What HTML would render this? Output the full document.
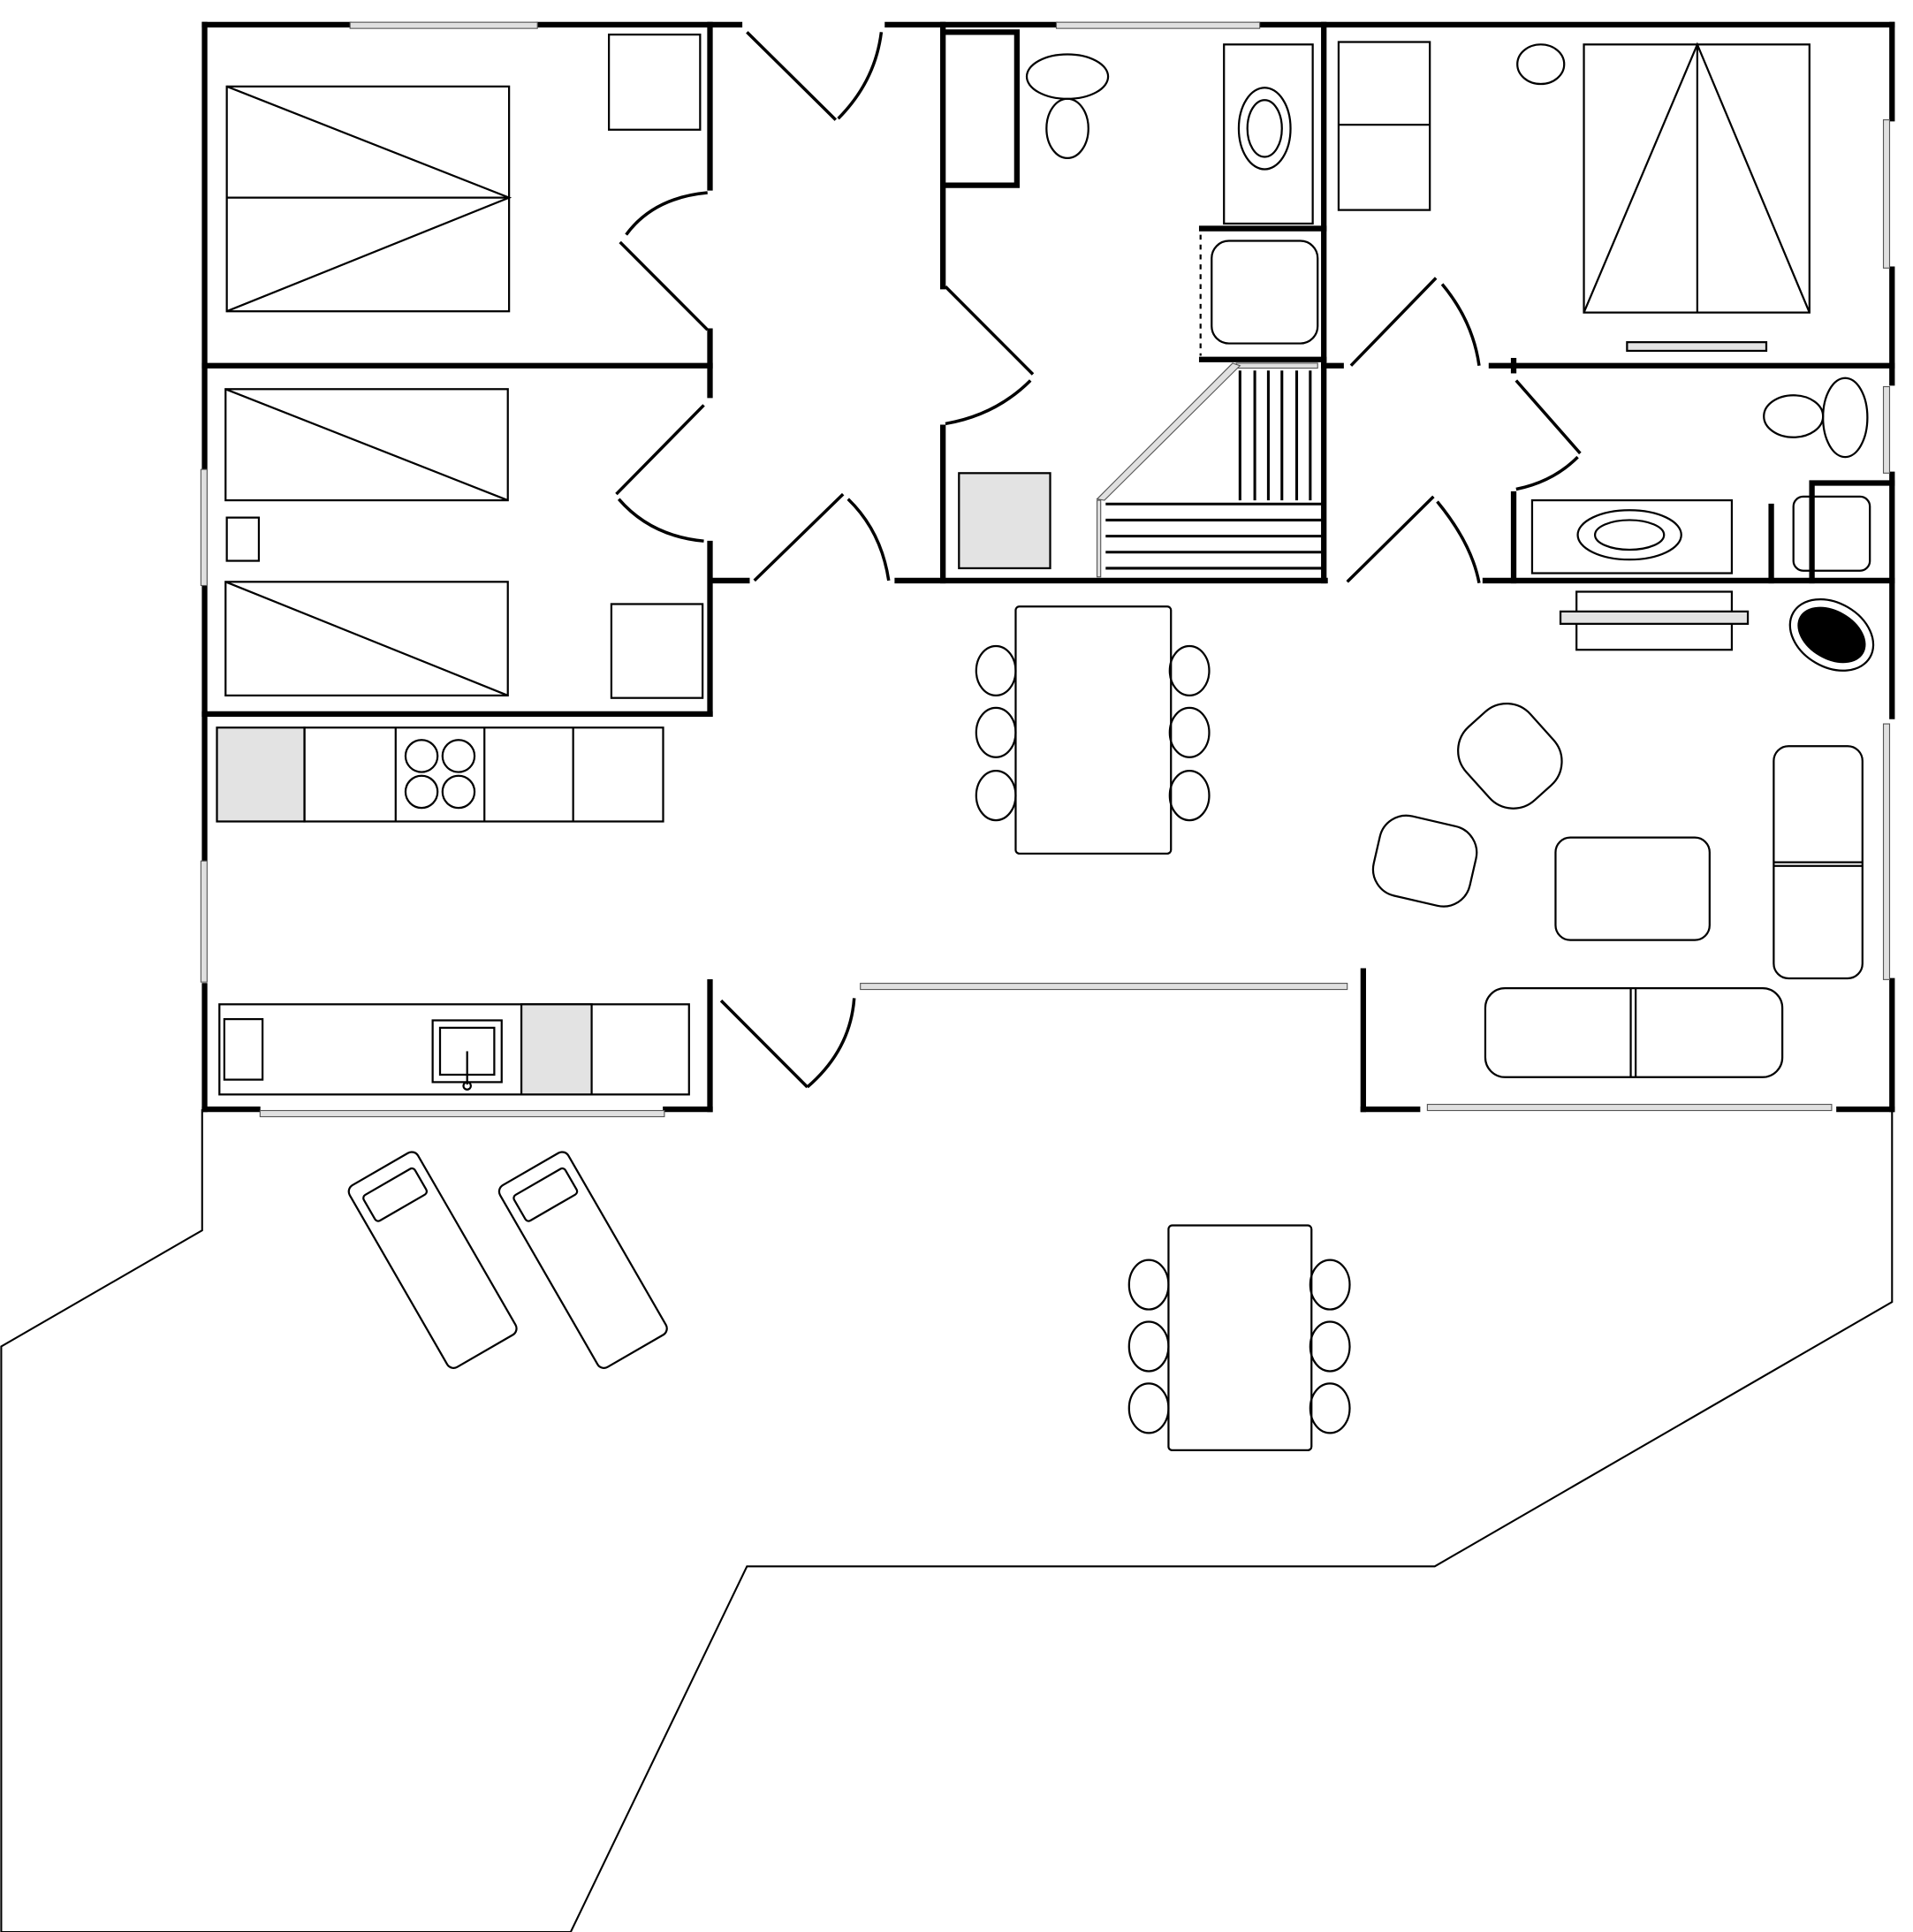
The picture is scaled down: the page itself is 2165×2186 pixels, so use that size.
<!DOCTYPE html>
<html><head><meta charset="utf-8"><style>html,body{margin:0;padding:0;background:#fff}svg{display:block}</style></head>
<body>
<svg width="2165" height="2186" viewBox="0 0 1552 1564" preserveAspectRatio="none" xmlns="http://www.w3.org/2000/svg">
<rect width="1552" height="1564" fill="#fff"/>
<polyline points="164,898 164,996 1,1090 1,1564 463,1564 606,1268 1164,1268 1535,1054 1535,898" fill="none" stroke="#000" stroke-width="1.5"/>
<g stroke="#000" stroke-width="4.5" fill="none" stroke-linecap="square">
<polyline points="166,20 166,578"/>
<polyline points="166,20 283,20"/><polyline points="437,20 600,20"/>
<line x1="576" y1="20" x2="576" y2="152"/><line x1="576" y1="268" x2="576" y2="320"/>
<line x1="166" y1="296" x2="576" y2="296"/>
<line x1="576" y1="440" x2="576" y2="578"/>
<line x1="166" y1="578" x2="576" y2="578"/>
<line x1="580" y1="470" x2="606" y2="470"/>
<line x1="720" y1="20" x2="856" y2="20"/><line x1="1022" y1="20" x2="1535" y2="20"/>
<line x1="765" y1="20" x2="765" y2="232"/><line x1="765" y1="346" x2="765" y2="470"/>
<polyline points="767,26 825,26 825,150 767,150"/>
<line x1="728" y1="470" x2="1075" y2="470"/>
<line x1="1074" y1="20" x2="1074" y2="470"/>
<line x1="975" y1="185" x2="1074" y2="185"/><line x1="975" y1="291" x2="1074" y2="291"/>
<line x1="1074" y1="296" x2="1088" y2="296"/>
<line x1="1210" y1="296" x2="1535" y2="296"/><line x1="1228" y1="292" x2="1228" y2="300"/>
<line x1="1535" y1="20" x2="1535" y2="96"/><line x1="1535" y1="218" x2="1535" y2="310"/>
<line x1="1535" y1="384" x2="1535" y2="580"/>
<line x1="1228" y1="400" x2="1228" y2="470"/>
<line x1="1205" y1="470" x2="1535" y2="470"/>
<polyline points="1470,470 1470,391 1535,391"/>
<line x1="1437" y1="410" x2="1437" y2="470"/>
<line x1="166" y1="578" x2="166" y2="695"/><line x1="166" y1="798" x2="166" y2="898"/>
<line x1="166" y1="898" x2="209" y2="898"/><line x1="540" y1="898" x2="576" y2="898"/>
<line x1="576" y1="795" x2="576" y2="898"/>
<line x1="1106" y1="786" x2="1106" y2="898"/>
<line x1="1106" y1="898" x2="1150" y2="898"/><line x1="1492" y1="898" x2="1535" y2="898"/>
<line x1="1535" y1="794" x2="1535" y2="898"/>
</g>
<g fill="#e0e0e0" stroke="#555" stroke-width="0.8">
<rect x="284" y="18" width="152" height="5"/><rect x="857" y="18" width="165" height="5"/>
<rect x="163" y="380" width="5" height="94"/><rect x="163" y="697" width="5" height="98"/>
<rect x="211" y="899" width="328" height="5"/><rect x="1158" y="894" width="328" height="5"/>
<rect x="1528" y="97" width="5" height="120"/><rect x="1528" y="313" width="5" height="70"/>
<rect x="1528" y="586" width="5" height="207"/>
<rect x="698" y="796" width="395" height="5"/>
<rect x="1003" y="294" width="66" height="4"/>
<polygon points="1000,294 1006,296 896,405 890,404"/>
<rect x="890" y="405" width="3" height="62"/>
</g>
<g stroke="#000" stroke-width="2.5" fill="none">
<line x1="606" y1="26" x2="678" y2="97"/><path d="M680,96 Q710,66 715,26"/>
<line x1="503" y1="196" x2="574" y2="267"/><path d="M574,156 Q530,160 508,190"/>
<line x1="500" y1="400" x2="571" y2="328"/><path d="M571,438 Q528,434 502,404"/>
<line x1="612" y1="470" x2="684" y2="400"/><path d="M688,404 Q715,430 721,470"/>
<line x1="767" y1="232" x2="838" y2="303"/><path d="M836,308 Q808,336 767,343"/>
<line x1="1096" y1="296" x2="1165" y2="225"/><path d="M1170,230 Q1195,260 1200,296"/>
<line x1="1093" y1="471" x2="1163" y2="402"/><path d="M1166,406 Q1194,440 1200,472"/>
<line x1="1230" y1="308" x2="1282" y2="367"/><path d="M1280,370 Q1260,390 1230,396"/>
<line x1="585" y1="810" x2="655" y2="880"/><path d="M655,880 Q690,850 693,808"/>
</g>
<g stroke="#000" stroke-width="1.6" fill="none">
<rect x="494" y="28" width="74" height="77"/>
<rect x="184" y="70" width="229" height="182"/>
<polyline points="184,70 413,160 184,252"/><line x1="184" y1="160" x2="413" y2="160"/>
<rect x="183" y="315" width="229" height="90"/><line x1="183" y1="315" x2="412" y2="405"/>
<rect x="184" y="419" width="26" height="35"/>
<rect x="183" y="471" width="229" height="92"/><line x1="183" y1="471" x2="412" y2="563"/>
<rect x="496" y="489" width="74" height="76"/>
<rect x="176" y="589" width="71" height="76" fill="#e3e3e3"/>
<rect x="247" y="589" width="291" height="76"/>
<line x1="321" y1="589" x2="321" y2="665"/><line x1="393" y1="589" x2="393" y2="665"/><line x1="465" y1="589" x2="465" y2="665"/>
<circle cx="342" cy="612" r="13"/><circle cx="372" cy="612" r="13"/><circle cx="342" cy="641" r="13"/><circle cx="372" cy="641" r="13"/>
<rect x="178" y="813" width="381" height="73"/>
<rect x="182" y="825" width="31" height="49"/>
<rect x="351" y="826" width="56" height="50"/><rect x="357" y="832" width="44" height="38"/>
<line x1="379" y1="851" x2="379" y2="878"/><circle cx="379" cy="879" r="3"/>
<rect x="423" y="813" width="57" height="73" fill="#e3e3e3"/>
<rect x="824" y="491" width="126" height="200" rx="3"/>
<ellipse cx="808" cy="543" rx="16" ry="20"/><ellipse cx="808" cy="593" rx="16" ry="20"/><ellipse cx="808" cy="644" rx="16" ry="20"/>
<ellipse cx="965" cy="543" rx="16" ry="20"/><ellipse cx="965" cy="593" rx="16" ry="20"/><ellipse cx="965" cy="644" rx="16" ry="20"/>
<rect x="948" y="992" width="116" height="182" rx="3"/>
<ellipse cx="932" cy="1040" rx="16" ry="20"/><ellipse cx="932" cy="1090" rx="16" ry="20"/><ellipse cx="932" cy="1140" rx="16" ry="20"/>
<ellipse cx="1079" cy="1040" rx="16" ry="20"/><ellipse cx="1079" cy="1090" rx="16" ry="20"/><ellipse cx="1079" cy="1140" rx="16" ry="20"/>
<ellipse cx="866" cy="62" rx="33" ry="18"/><ellipse cx="866" cy="104" rx="17" ry="24"/>
<rect x="993" y="36" width="72" height="145"/><ellipse cx="1026" cy="104" rx="21" ry="33"/><ellipse cx="1026" cy="104" rx="14" ry="23"/>
<rect x="983" y="195" width="86" height="83" rx="14"/>
<line x1="974" y1="190" x2="974" y2="288" stroke-dasharray="4,4"/>
<rect x="778" y="383" width="74" height="77" fill="#e3e3e3"/>
<g stroke-width="2.2">
<line x1="1006" y1="300" x2="1006" y2="405"/><line x1="1018" y1="300" x2="1018" y2="405"/><line x1="1029" y1="300" x2="1029" y2="405"/><line x1="1040" y1="300" x2="1040" y2="405"/><line x1="1052" y1="300" x2="1052" y2="405"/><line x1="1063" y1="300" x2="1063" y2="405"/>
<line x1="897" y1="408" x2="1072" y2="408"/><line x1="897" y1="421" x2="1072" y2="421"/><line x1="897" y1="434" x2="1072" y2="434"/><line x1="897" y1="447" x2="1072" y2="447"/><line x1="897" y1="460" x2="1072" y2="460"/>
</g>
<rect x="1086" y="34" width="74" height="136"/><line x1="1086" y1="101" x2="1160" y2="101"/>
<ellipse cx="1250" cy="52" rx="19" ry="16"/>
<rect x="1285" y="36" width="183" height="217"/>
<polyline points="1285,253 1377,36 1468,253"/><line x1="1377" y1="36" x2="1377" y2="253"/>
<rect x="1320" y="277" width="113" height="7" fill="#e3e3e3"/>
<ellipse cx="1455" cy="337" rx="24" ry="17"/><ellipse cx="1497" cy="338" rx="18" ry="32"/>
<rect x="1243" y="405" width="162" height="59"/><ellipse cx="1322" cy="433" rx="42" ry="20"/><ellipse cx="1322" cy="433" rx="28" ry="12"/>
<rect x="1455" y="402" width="62" height="60" rx="8"/>
<rect x="1279" y="479" width="126" height="47"/><rect x="1266" y="495" width="152" height="10" fill="#e3e3e3"/>
<ellipse cx="1486" cy="514" rx="36" ry="26" transform="rotate(30 1486 514)"/>
<ellipse cx="1486" cy="514" rx="29" ry="19" transform="rotate(30 1486 514)" fill="#000"/>
<rect x="1190" y="572" width="70" height="80" rx="26" transform="rotate(-42 1225 612)"/>
<rect x="1116" y="664" width="80" height="66" rx="22" transform="rotate(13 1156 697)"/>
<rect x="1262" y="678" width="125" height="83" rx="12"/>
<rect x="1439" y="604" width="72" height="188" rx="12"/><line x1="1439" y1="698" x2="1511" y2="698"/><line x1="1439" y1="701" x2="1511" y2="701"/>
<rect x="1205" y="800" width="241" height="72" rx="16"/><line x1="1323" y1="800" x2="1323" y2="872"/><line x1="1327" y1="800" x2="1327" y2="872"/>
<g transform="rotate(-30 351 1020)"><rect x="319" y="935" width="64" height="170" rx="6"/><rect x="327" y="947" width="48" height="24" rx="3"/></g>
<g transform="rotate(-30 473 1020)"><rect x="441" y="935" width="64" height="170" rx="6"/><rect x="449" y="947" width="48" height="24" rx="3"/></g>
</g>
</svg>
</body></html>
